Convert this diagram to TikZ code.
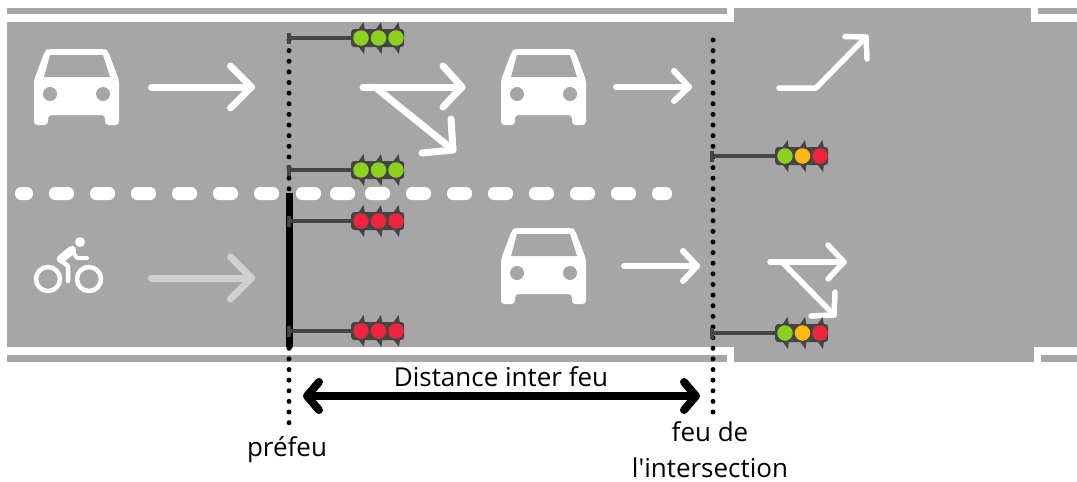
\documentclass[tikz,border=0pt]{standalone}
\usepackage{fontspec}
\setmainfont{Open Sans}[Ligatures=TeXOff]
\usetikzlibrary{arrows.meta}
\definecolor{route}{HTML}{A6A6A6}
\definecolor{sombre}{HTML}{444444}
\definecolor{vert}{HTML}{8CD11F}
\definecolor{orange}{HTML}{FFB90F}
\definecolor{rouge}{HTML}{F0243F}
\definecolor{velo}{HTML}{D0D0D0}
\tikzset{
  marquage/.style={draw=white,line width=7pt,line cap=round,line join=round},
  fin/.style={marquage,line width=5.5pt},
  pointille/.style={draw=black,line width=5pt,line cap=round,dash pattern=on 0pt off 10.63pt},
  potence/.style={draw=sombre,line width=3.5pt},
  boitier/.style={fill=sombre,draw=none,rounded corners=3pt,minimum width=53pt,minimum height=18pt,inner sep=0pt},
  lampe/.style={circle,draw=none,minimum size=15.5pt,inner sep=0pt},
  etiquette/.style={font=\fontsize{26}{36}\selectfont,inner sep=0pt,align=center},
}
% car seen from the front, (#1,#2) is its top left corner
\newcommand{\voiture}[2]{
\begin{scope}[shift={(#1,#2)}]
\fill[white,rounded corners=3.5pt] (0,31) -- (11,2) -- (14,0) -- (71,0) -- (74,2) -- (85,31) -- (85,76) -- (71,76) -- (71,66) -- (14,66) -- (14,76) -- (0,76) -- cycle;
\fill[route] (16,6) -- (69,6) -- (76,28) -- (10,28) -- cycle;
\fill[route] (16,45) circle (7);
\fill[route] (69,45) circle (7);
\end{scope}
}
% straight arrow painted on the road
\newcommand{\fleche}[4][white]{
\draw[marquage,draw=#1] (#2,#3) -- (#4,#3);
\draw[marquage,draw=#1] (#4-21,#3-21) -- (#4,#3) -- (#4-21,#3+21);
}
% light with its pole: name, pole x, y, box x, three colours
\newcommand{\feux}[7]{
\coordinate (#1p) at (#2,#3);
\foreach \dx in {0,17.5,35} {
  \fill[sombre] (#4+7+\dx,#3-8) -- (#4+12.5+\dx,#3-16) -- (#4+14+\dx,#3-8) -- cycle;
  \fill[sombre] (#4+7+\dx,#3+8) -- (#4+13+\dx,#3+16) -- (#4+14+\dx,#3+8) -- cycle;
}
\node[boitier,anchor=west] (#1) at (#4,#3) {};
\node[lampe,fill=#5] (#1a) at (#4+10,#3) {};
\node[lampe,fill=#6] (#1b) at (#4+27.5,#3) {};
\node[lampe,fill=#7] (#1c) at (#4+45,#3) {};
\draw[potence] (#1p) -- (#1);
\draw[potence] (#2,#3-5.5) -- (#2,#3+5.5);
}
\begin{document}
\begin{tikzpicture}[x=1pt,y=-1pt]
\useasboundingbox (0,0) rectangle (1077,482);

% road
\fill[route] (7,8) rectangle (1077,362);
\fill[white] (7,14) rectangle (734,22);
\fill[white] (727,8) rectangle (734,22);
\fill[white] (1031,14) rectangle (1077,22);
\fill[white] (1031,8) rectangle (1038,22);
\fill[white] (7,347) rectangle (734,355);
\fill[white] (727,347) rectangle (734,362);
\fill[white] (1034,347) rectangle (1077,355);
\fill[white] (1034,347) rectangle (1041,362);

% centre line
\foreach \xa/\xb in {15/33,49/74,90/115,131/156,172/197,213/238,254/279,296/321,330/355,365/390,406/431,447/472,488/513,529/554,570/595,611/636,652/672} {
  \fill[white,rounded corners=6pt] (\xa,187) rectangle (\xb,200);
}

% vehicles
\voiture{34}{49}
\voiture{501}{49}
\voiture{501}{228}

% bike
\draw[white,line width=4.5pt] (48,279) circle (12);
\draw[white,line width=4.5pt] (89,279) circle (12);
\fill[white] (80,242) circle (5);
\draw[marquage,line width=8.5pt] (61,259) -- (72,250);
\draw[marquage,line width=4pt] (72,251) -- (77,258) -- (87,258);
\draw[marquage,line width=4.5pt] (60,260) -- (68,266) -- (68,281);

% arrows
\fleche{151.5}{87}{251.5}
\fleche[velo]{151.5}{278}{251.5}
\draw[marquage] (363,87) -- (462,87);
\draw[marquage] (443,66) -- (462,87) -- (443,107);
\draw[marquage] (375,87) -- (453,150);
\draw[marquage] (451,119) -- (453,150) -- (422,153);
\draw[marquage,line width=6pt] (616,87) -- (689,87);
\draw[marquage,line width=6pt] (674,71) -- (689,87) -- (674,101);
\draw[marquage,line width=6pt] (624,266) -- (697,266);
\draw[marquage,line width=6pt] (683,251) -- (697,266) -- (683,281);
\draw[fin] (779,88) -- (816,88) -- (866,37);
\draw[fin] (845,36.5) -- (866,37) -- (867,59);
\draw[fin] (770,262) -- (844,262);
\draw[fin] (828,245) -- (844,262) -- (828,279);
\draw[fin] (782,262) -- (834,315);
\draw[fin] (835,292) -- (834,315) -- (811,316);

% stop lines
\coordinate (prefeuH) at (289,40);
\coordinate (prefeuB) at (289,423);
\coordinate (interH) at (713,40);
\coordinate (interB) at (713,412.5);
\draw[pointille] (prefeuH) -- (prefeuB);
\draw[pointille] (interH) -- (interB);
\coordinate (stopH) at (289.5,193);
\coordinate (stopB) at (289.5,346);
\draw[black,line width=7pt] (stopH) -- (stopB);
\fill[black] (stopB) circle (3.5);

% lights
\feux{feuA}{289}{38}{351}{vert}{vert}{vert}
\feux{feuB}{289}{170}{351}{vert}{vert}{vert}
\feux{feuC}{289}{221}{351}{rouge}{rouge}{rouge}
\feux{feuD}{289}{331}{351}{rouge}{rouge}{rouge}
\feux{feuE}{712}{156}{775}{vert}{orange}{rouge}
\feux{feuF}{712}{333}{775}{vert}{orange}{rouge}

% distance
\coordinate (distG) at (303,396);
\coordinate (distD) at (700,396);
\draw[black,line width=8pt,line cap=round,{Straight Barb[length=12pt,width=28pt,round]}-{Straight Barb[length=12pt,width=28pt,round]}] (distG) -- (distD);
\node[etiquette] (distance) at (501,377) {Distance inter feu};
\node[etiquette] (prefeu) at (287,450) {préfeu};
\node[etiquette] (inter) at (710,449.5) {feu de\\l'intersection};
\end{tikzpicture}
\end{document}
